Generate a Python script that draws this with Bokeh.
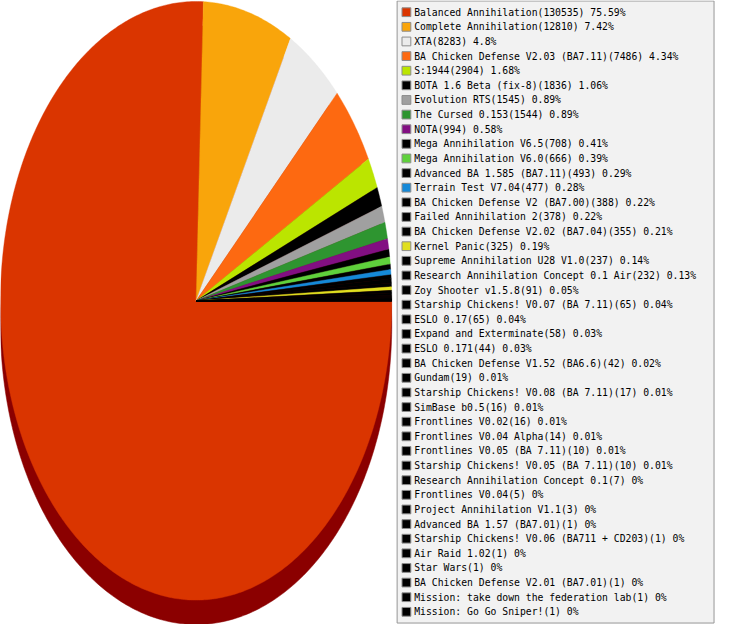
import numpy as np
from bokeh.plotting import figure
from bokeh.models import Range1d, ColumnDataSource
from bokeh.core.properties import value
from bokeh.embed import file_html
from bokeh.resources import INLINE

names = [
    "Balanced Annihilation", "Complete Annihilation", "XTA",
    "BA Chicken Defense V2.03 (BA7.11)", "S:1944", "BOTA 1.6 Beta (fix-8)",
    "Evolution RTS", "The Cursed 0.153", "NOTA", "Mega Annihilation V6.5",
    "Mega Annihilation V6.0", "Advanced BA 1.585 (BA7.11)", "Terrain Test V7.04",
    "BA Chicken Defense V2 (BA7.00)", "Failed Annihilation 2",
    "BA Chicken Defense V2.02 (BA7.04)", "Kernel Panic",
    "Supreme Annihilation U28 V1.0", "Research Annihilation Concept 0.1 Air",
    "Zoy Shooter v1.5.8", "Starship Chickens! V0.07 (BA 7.11)", "ESLO 0.17",
    "Expand and Exterminate", "ESLO 0.171", "BA Chicken Defense V1.52 (BA6.6)",
    "Gundam", "Starship Chickens! V0.08 (BA 7.11)", "SimBase b0.5",
    "Frontlines V0.02", "Frontlines V0.04 Alpha", "Frontlines V0.05 (BA 7.11)",
    "Starship Chickens! V0.05 (BA 7.11)", "Research Annihilation Concept 0.1",
    "Frontlines V0.04", "Project Annihilation V1.1", "Advanced BA 1.57 (BA7.01)",
    "Starship Chickens! V0.06 (BA711 + CD203)", "Air Raid 1.02", "Star Wars",
    "BA Chicken Defense V2.01 (BA7.01)", "Mission: take down the federation lab",
    "Mission: Go Go Sniper!",
]
counts = [
    130535, 12810, 8283, 7486, 2904, 1836, 1545, 1544, 994, 708,
    666, 493, 477, 388, 378, 355, 325, 237, 232, 91,
    65, 65, 58, 44, 42, 19, 17, 16, 16, 14,
    10, 10, 7, 5, 3, 1, 1, 1, 1, 1,
    1, 1,
]
pcts = [
    "75.59", "7.42", "4.8", "4.34", "1.68", "1.06", "0.89", "0.89", "0.58", "0.41",
    "0.39", "0.29", "0.28", "0.22", "0.22", "0.21", "0.19", "0.14", "0.13", "0.05",
    "0.04", "0.04", "0.03", "0.03", "0.02", "0.01", "0.01", "0.01", "0.01", "0.01",
    "0.01", "0.01", "0", "0", "0", "0", "0", "0", "0", "0",
    "0", "0",
]
colors = [
    "#DA3500", "#F9A50B", "#EBEBEB", "#FD6911", "#BBE500", "#000000",
    "#A0A0A0", "#2E9530", "#820F82", "#000000", "#5FD13C", "#000000",
    "#1589D8", "#000000", "#000000", "#000000", "#E0DF20",
] + ["#000000"] * 25

# geometry (reference pixel space)
CX, CY, RX, RY, DEPTH = 200.0, 308.0, 200.0, 307.0, 25.0

p = figure(width=715, height=624, x_range=Range1d(0, 731), y_range=Range1d(640, 0),
           output_backend="svg", toolbar_location=None, min_border=0,
           x_axis_location=None, y_axis_location=None)
p.grid.visible = False
p.outline_line_color = None
p.background_fill_color = "white"
p.border_fill_color = "white"

# shadow / side of the pie
ts = np.linspace(0, 2 * np.pi, 400)
p.patch(list(CX + RX * np.cos(ts)), list(CY + DEPTH + RY * np.sin(ts)),
        fill_color="#8B0000", line_color="#8B0000", line_width=0.5)

vals = np.array(counts, dtype=float)
edges = np.concatenate([[0.0], np.cumsum(vals / vals.sum())]) * 2 * np.pi
xs, ys = [], []
for i in range(len(vals)):
    n = max(2, int((edges[i + 1] - edges[i]) / (2 * np.pi) * 600) + 2)
    t = np.linspace(edges[i], edges[i + 1], n)
    xs.append([CX] + list(CX + RX * np.cos(t)))
    ys.append([CY] + list(CY + RY * np.sin(t)))
p.patches(xs, ys, fill_color=colors, line_color=colors, line_width=0.4)

# legend box
p.quad(left=[405.5], right=[729.5], top=[0.5], bottom=[638.5],
       fill_color="#F2F2F2", line_color="#969696", line_width=1)

rows = [12 + 15 * i for i in range(len(names))]
labels = [f"{n}({c}) {q}%" for n, c, q in zip(names, counts, pcts)]
src = ColumnDataSource(dict(x=[415] * len(rows), tx=[423] * len(rows), y=rows,
                            c=colors, label=labels))
p.rect(x="x", y="y", width=9, height=9, source=src, fill_color="c",
       line_color="#8C8C8C", line_width=1)
p.text(x="tx", y="y", text="label", source=src, text_baseline="middle",
       text_align="left", text_color="#000000",
       text_font=value("DejaVu Sans Mono"), text_font_size="9.75px")

open("out.html", "w").write(file_html(p, INLINE))
